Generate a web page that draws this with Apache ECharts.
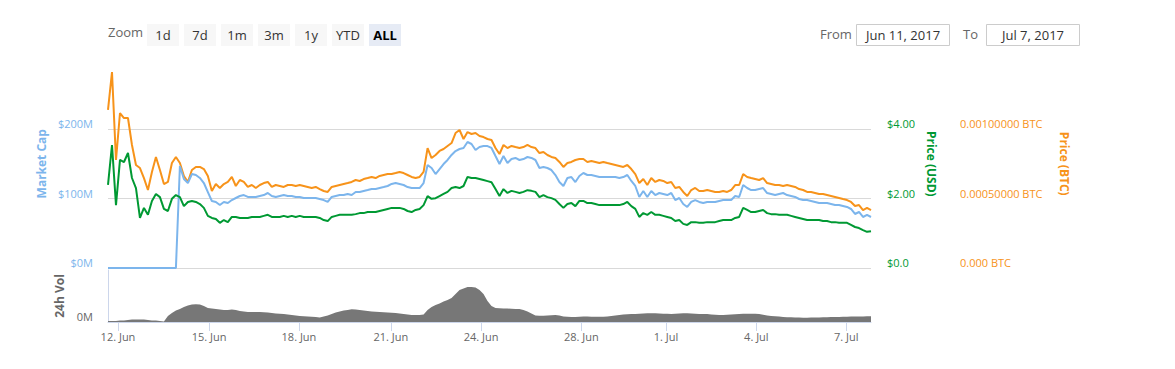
<!DOCTYPE html>
<html><head><meta charset="utf-8">
<script src="https://cdn.jsdelivr.net/npm/echarts@6/dist/echarts.min.js"></script>
<style>html,body{margin:0;padding:0;background:#fff;}#c{width:1175px;height:369px;}</style>
</head><body><div id="c"></div>
<script>
// Market cap, USD millions (one sample per ordinal step)
const marketCapM = [0,0,0,0,0,0,0,0,0,0,0,0,0,0,0,0,0,0,
146.8,128.1,122.3,135.2,133.8,129.5,122.3,109.3,96.4,95.0,90.6,95.0,93.5,97.8,100.7,103.6,105.0,102.2,102.2,102.2,103.6,105.0,
107.9,103.6,102.2,103.6,105.0,103.6,103.6,102.2,102.2,100.7,100.7,100.7,100.7,99.3,97.8,95.0,102.2,103.6,105.0,105.0,
106.5,105.0,109.3,109.3,110.8,112.2,113.7,113.7,115.1,116.5,118.0,120.9,122.3,120.9,119.4,116.5,115.1,115.1,115.1,122.3,
148.2,143.9,135.2,142.4,149.6,155.4,162.6,168.3,171.2,172.7,181.3,178.4,169.8,174.1,175.5,175.5,172.7,161.1,149.6,161.1,
151.1,156.8,158.3,155.4,156.8,159.7,158.3,155.4,143.9,145.3,143.9,141.0,133.8,123.7,118.0,129.5,130.9,123.7,132.4,136.7,
133.8,133.8,132.4,130.9,130.9,130.9,130.9,130.9,129.5,130.9,133.8,125.2,118.0,102.2,110.8,102.2,110.8,105.0,107.9,106.5,
105.0,107.9,97.8,100.7,92.1,87.8,95.0,97.8,95.0,93.5,95.0,95.0,95.0,96.4,97.8,97.8,97.8,103.6,102.2,119.4,
115.1,112.2,112.2,113.7,115.1,107.9,106.5,105.0,106.5,107.9,105.0,103.6,102.2,99.3,97.8,97.8,96.4,95.0,93.5,93.5,
93.5,92.1,90.6,90.6,89.2,87.8,84.9,77.7,80.6,73.4,76.3,73.4];
// Price in USD
const priceUsd = [2.39,3.54,1.81,3.11,3.05,3.31,2.59,2.30,1.44,1.73,1.53,1.93,2.13,2.04,1.70,1.64,1.99,2.10,2.04,1.78,
1.90,1.93,1.90,1.84,1.73,1.50,1.44,1.41,1.30,1.38,1.32,1.47,1.47,1.44,1.44,1.44,1.47,1.47,1.47,1.50,
1.53,1.47,1.47,1.47,1.50,1.47,1.50,1.47,1.50,1.47,1.47,1.47,1.47,1.44,1.38,1.35,1.47,1.50,1.53,1.53,
1.53,1.53,1.55,1.58,1.58,1.61,1.61,1.61,1.64,1.67,1.70,1.73,1.73,1.73,1.70,1.64,1.61,1.67,1.70,1.81,
2.07,1.99,2.01,2.07,2.13,2.19,2.30,2.33,2.30,2.36,2.62,2.59,2.59,2.56,2.53,2.50,2.47,2.27,2.07,2.27,
2.16,2.22,2.19,2.16,2.19,2.24,2.22,2.19,2.04,2.10,2.04,2.01,1.96,1.84,1.73,1.84,1.87,1.78,1.93,1.93,
1.87,1.87,1.84,1.81,1.81,1.81,1.81,1.81,1.81,1.84,1.90,1.78,1.70,1.47,1.58,1.53,1.61,1.53,1.53,1.50,
1.47,1.44,1.35,1.38,1.27,1.24,1.32,1.32,1.30,1.30,1.32,1.32,1.32,1.35,1.38,1.38,1.38,1.44,1.47,1.73,
1.67,1.61,1.61,1.64,1.67,1.58,1.55,1.55,1.53,1.53,1.53,1.50,1.47,1.44,1.41,1.38,1.38,1.38,1.38,1.35,
1.35,1.32,1.32,1.30,1.30,1.30,1.24,1.18,1.15,1.09,1.04,1.06];
// Price in micro-BTC (1e-6 BTC)
const priceBtcMicro = [1137,1410,777,1115,1079,1079,885,741,719,647,561,691,799,705,604,619,755,799,755,662,
619,705,727,727,712,662,554,604,576,604,619,655,590,633,619,583,597,576,597,611,
619,583,597,590,583,597,597,590,597,590,583,576,583,568,554,547,583,590,597,604,
611,619,633,626,640,647,655,647,662,669,676,676,683,691,683,669,655,647,655,691,
863,791,813,842,856,878,899,971,993,928,978,964,971,950,942,928,921,863,820,885,
863,878,870,863,870,885,870,863,827,835,813,799,791,763,727,755,763,777,784,784,
763,770,763,755,763,755,748,741,734,727,741,712,676,611,640,597,647,619,633,626,
611,619,576,583,547,518,561,576,554,554,561,554,547,547,554,547,561,597,597,676,
655,647,640,633,647,611,604,597,597,590,597,590,583,568,561,547,547,540,532,532,
525,518,511,504,496,489,475,446,453,417,432,417];
// 24h volume, USD millions
const volumeM = [1,1,1,1.5,1.5,2,2.5,2.5,2.5,2.5,2,1.5,1.5,1,0.5,6,9,11.5,13,15,
16.5,17.5,17.7,17.5,16,14,13.5,13,12.5,12,12,12.5,12,11,10.5,10,10,10,10,9.7,
9.5,9,8.5,8.3,8,7.5,7,6.5,6,5.8,5.5,5.3,5,4.5,5.5,6.5,8,9.5,10.5,11.5,
12,12.8,12.5,12,11.5,11,10.5,10.3,10,9.8,9.5,9.2,9,8.5,8,7.5,7,7,7,7.5,
12,15,17,18.5,20.5,22,24,28,32,33.5,35,35,34.5,32,28,21,16,14,13.7,13.5,
13.5,13.3,13,13,12,10.5,8.5,6.5,6.2,6.3,6.5,6.8,7,6.5,5.5,5.2,5,5,5.3,5.5,
5.5,5.3,5.3,5.2,5.3,5.5,6,6.5,7,7.5,7.8,8,8,8.2,8.5,8.7,8.8,8.7,8.5,8.3,
8.2,8,8.3,8.5,8.7,8.7,8.5,8.3,8,8,8,7.5,7.2,7,7,7.3,7.5,7.8,8,8.2,
8.3,8.3,8.3,8,7.3,6.5,6,5.8,5.5,5,4.8,4.7,4.5,4.4,4.3,4.3,4.4,4.5,4.6,4.7,
4.8,4.9,5,5,5.2,5.3,5.4,5.5,5.5,5.6,5.7,5.8];
// date tick labels and their ordinal positions (in sample steps)
const dateTickLabels = ['12. Jun','15. Jun','18. Jun','21. Jun','24. Jun','28. Jun','1. Jul','4. Jul','7. Jul'];
const dateTickPos = [2.5,25.3,47.8,70.8,93.4,118.5,139.7,162.3,184.8];
const zoomButtons = ['1d','7d','1m','3m','1y','YTD','ALL'];
const selectedZoom = 'ALL';
const rangeFrom = 'Jun 11, 2017';
const rangeTo = 'Jul 7, 2017';

const FONT = '"Open Sans", "DejaVu Sans", sans-serif';
const BLUE = '#7cb5ec', GREEN = '#009933', ORANGE = '#f7931a', GRID = '#d9d9d9';
const chart = echarts.init(document.getElementById('c'), null, {renderer: 'svg'});
const pairs = arr => arr.map((v, i) => [i, v]);
const N = marketCapM.length - 1;

const graphic = [];
graphic.push({type: 'text', left: 108, top: 25, style: {text: 'Zoom', fill: '#666', font: '13px ' + FONT}});
zoomButtons.forEach((b, k) => {
  const sel = b === selectedZoom;
  graphic.push({type: 'rect', shape: {x: 147 + 37 * k, y: 24, width: 32, height: 22},
    style: {fill: sel ? '#e6ebf5' : '#f7f7f7'}});
  graphic.push({type: 'text', x: 163 + 37 * k, y: 35,
    style: {text: b, fill: sel ? '#000' : '#333', font: (sel ? 'bold ' : '') + '13px ' + FONT,
      align: 'center', verticalAlign: 'middle'}});
});
graphic.push({type: 'text', x: 820, y: 34, style: {text: 'From', fill: '#666', font: '13px ' + FONT, verticalAlign: 'middle'}});
graphic.push({type: 'rect', shape: {x: 856.5, y: 24.5, width: 93, height: 21}, style: {fill: '#fff', stroke: '#ccc', lineWidth: 1}});
graphic.push({type: 'text', x: 903, y: 35, style: {text: rangeFrom, fill: '#333', font: '13px ' + FONT, align: 'center', verticalAlign: 'middle'}});
graphic.push({type: 'text', x: 963, y: 34, style: {text: 'To', fill: '#666', font: '13px ' + FONT, verticalAlign: 'middle'}});
graphic.push({type: 'rect', shape: {x: 986.5, y: 24.5, width: 93, height: 21}, style: {fill: '#fff', stroke: '#ccc', lineWidth: 1}});
graphic.push({type: 'text', x: 1033, y: 35, style: {text: rangeTo, fill: '#333', font: '13px ' + FONT, align: 'center', verticalAlign: 'middle'}});

const nameStyle = c => ({color: c, fontWeight: 'bold', fontSize: 12, fontFamily: FONT});
const labelBase = c => ({color: c, fontSize: 11, fontFamily: FONT, verticalAlign: 'bottom'});

chart.setOption({
  animation: false,
  textStyle: {fontFamily: FONT},
  graphic: graphic,
  grid: [
    {left: 108, right: 304, top: 59.5, bottom: 101},
    {left: 108, right: 304, top: 270, bottom: 47}
  ],
  xAxis: [
    {gridIndex: 0, type: 'value', min: 0, max: N, show: false},
    {gridIndex: 1, type: 'value', min: 0, max: N,
      axisLine: {show: true, lineStyle: {color: '#ccd6eb'}},
      axisTick: {show: true, customValues: dateTickPos, length: 9, lineStyle: {color: '#ccd6eb'}},
      axisLabel: {customValues: dateTickPos, color: '#666', fontSize: 11, fontFamily: FONT, margin: 9,
        formatter: v => { const k = dateTickPos.findIndex(p => Math.abs(p - v) < 1e-6); return k >= 0 ? dateTickLabels[k] : ''; }},
      splitLine: {show: false}}
  ],
  yAxis: [
    {gridIndex: 0, type: 'value', min: 0, max: 300, interval: 100, position: 'left',
      name: 'Market Cap', nameLocation: 'middle', nameRotate: 90, nameGap: 58, nameTextStyle: nameStyle(BLUE),
      axisLine: {show: false}, axisTick: {show: false},
      axisLabel: Object.assign(labelBase(BLUE), {margin: 15, formatter: v => v >= 300 ? '' : '$' + v + 'M'}),
      splitLine: {show: true, lineStyle: {color: [GRID, GRID, GRID, 'rgba(0,0,0,0)'], width: 1}}},
    {gridIndex: 0, type: 'value', min: 0, max: 6, interval: 2, position: 'right',
      name: 'Price (USD)', nameLocation: 'middle', nameRotate: -90, nameGap: 53, nameTextStyle: nameStyle(GREEN),
      axisLine: {show: false}, axisTick: {show: false},
      axisLabel: Object.assign(labelBase(GREEN), {margin: 16, formatter: v => v >= 6 ? '' : (v === 0 ? '$0.0' : '$' + v.toFixed(2))}),
      splitLine: {show: false}},
    {gridIndex: 0, type: 'value', min: 0, max: 0.0015, interval: 0.0005, position: 'right', offset: 73,
      name: 'Price (BTC)', nameLocation: 'middle', nameRotate: -90, nameGap: 114, nameTextStyle: nameStyle(ORANGE),
      axisLine: {show: false}, axisTick: {show: false},
      axisLabel: Object.assign(labelBase(ORANGE), {margin: 16, formatter: v => v >= 0.00149 ? '' : (v === 0 ? '0.000 BTC' : v.toFixed(8) + ' BTC')}),
      splitLine: {show: false}},
    {gridIndex: 1, type: 'value', min: 0, max: 52, position: 'left',
      name: '24h Vol', nameLocation: 'middle', nameRotate: 90, nameGap: 39, nameTextStyle: nameStyle('#666'),
      axisLine: {show: true, lineStyle: {color: '#ccd6eb'}}, axisTick: {show: false},
      axisLabel: Object.assign(labelBase('#666'), {margin: 15, customValues: [0], formatter: () => '0M'}),
      splitLine: {show: false}}
  ],
  series: [
    {name: 'Price (BTC)', type: 'line', xAxisIndex: 0, yAxisIndex: 2, data: pairs(priceBtcMicro.map(v => v / 1e6)),
      showSymbol: false, lineStyle: {color: ORANGE, width: 2}, itemStyle: {color: ORANGE}},
    {name: 'Market Cap', type: 'line', xAxisIndex: 0, yAxisIndex: 0, data: pairs(marketCapM),
      showSymbol: false, lineStyle: {color: BLUE, width: 2}, itemStyle: {color: BLUE}},
    {name: 'Price (USD)', type: 'line', xAxisIndex: 0, yAxisIndex: 1, data: pairs(priceUsd),
      showSymbol: false, lineStyle: {color: GREEN, width: 2}, itemStyle: {color: GREEN}},
    {name: '24h Vol', type: 'line', xAxisIndex: 1, yAxisIndex: 3, data: pairs(volumeM),
      showSymbol: false, lineStyle: {width: 0}, areaStyle: {color: '#777', opacity: 1}, itemStyle: {color: '#777'}}
  ]
});
</script>
</body></html>
